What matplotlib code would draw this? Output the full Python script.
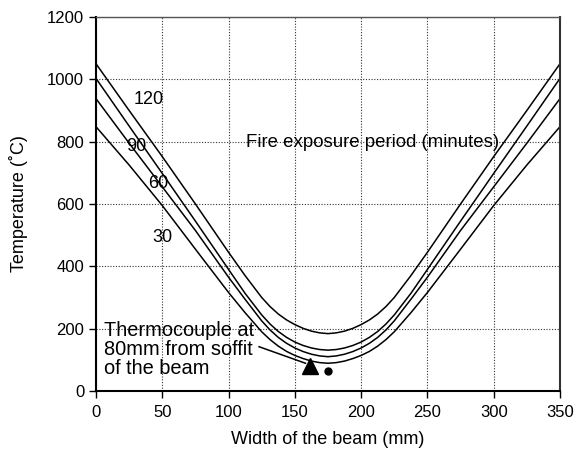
import matplotlib.pyplot as plt

plt.rcParams['font.family'] = ['Liberation Sans', 'DejaVu Sans']

# width across the beam (mm)
width = [0, 25, 50, 75, 100, 112.5, 125, 131.25, 137.5, 143.75, 150, 156.25, 162.5, 168.75, 175,
         181.25, 187.5, 193.75, 200, 206.25, 212.5, 218.75, 225, 237.5, 250, 275, 300, 325, 350]

# temperature for each fire exposure period (minutes)
temp_120 = [1050, 900, 752, 600, 445, 370, 300, 271, 247, 228, 213, 201, 192, 186.5, 184,
            186.5, 192, 201, 213, 228, 247, 271, 300, 370, 445, 600, 752, 900, 1050]
temp_90 = [1003, 850, 698, 545, 390, 313, 244, 215, 191, 172, 157, 146, 138, 133, 131,
           133, 138, 146, 157, 172, 191, 215, 244, 313, 390, 545, 698, 850, 1003]
temp_60 = [938, 795, 655, 515, 365, 294, 225, 196, 172, 153, 138, 126.5, 118, 112.5, 110,
           112.5, 118, 126.5, 138, 153, 172, 196, 225, 294, 365, 515, 655, 795, 938]
temp_30 = [848, 725, 595, 455, 316, 251, 190, 165, 144, 127, 114, 104, 96, 91, 89,
           91, 96, 104, 114, 127, 144, 165, 190, 251, 316, 455, 595, 725, 848]

curve_labels = ['120', '90', '60', '30']
label_x = [40, 30, 47, 50]
label_y = [936, 786, 667, 491]

thermo_x = [161.7]
thermo_y = [79]
dot_x = [175]
dot_y = [65]

fig = plt.figure(figsize=(5.8, 4.54), dpi=100)
ax = fig.add_axes([0.1655, 0.1388, 0.80, 0.8238])

for t in [temp_120, temp_90, temp_60, temp_30]:
    ax.plot(width, t, color='black', lw=1.1)

for lab, lx, ly in zip(curve_labels, label_x, label_y):
    ax.text(lx, ly, lab, ha='center', va='center', fontsize=13)

ax.text(113, 796, 'Fire exposure period (minutes)', ha='left', va='center', fontsize=13.4)

# thermocouple annotation
ax.text(6, 226, 'Thermocouple at\n80mm from soffit\nof the beam', ha='left', va='top',
        fontsize=14.4, linespacing=1.0)
ax.plot([123, 158], [142, 89], color='black', lw=1.1)
ax.plot(thermo_x, thermo_y, marker='^', markersize=12, color='black', linestyle='none')
ax.plot(dot_x, dot_y, marker='o', markersize=5, color='black', linestyle='none')

ax.set_xlim(0, 350)
ax.set_ylim(0, 1200)
ax.set_xticks(range(0, 351, 50))
ax.set_yticks(range(0, 1201, 200))
ax.tick_params(labelsize=12, direction='out', length=5, width=1)
ax.tick_params(axis='x', pad=5)

ax.grid(True, color='#333333', linestyle=(0, (1, 1.5)), linewidth=0.8)

ax.spines['left'].set_linewidth(1.5)
ax.spines['bottom'].set_linewidth(1.5)
ax.spines['top'].set_linewidth(1.0)
ax.spines['top'].set_color('#555555')
ax.spines['right'].set_linewidth(1.5)
ax.spines['right'].set_color('#333333')

ax.set_xlabel('Width of the beam (mm)', fontsize=13, labelpad=8)
ax.set_ylabel('Temperature (˚C)', fontsize=13, labelpad=14)

plt.savefig('out.png', dpi=100)
